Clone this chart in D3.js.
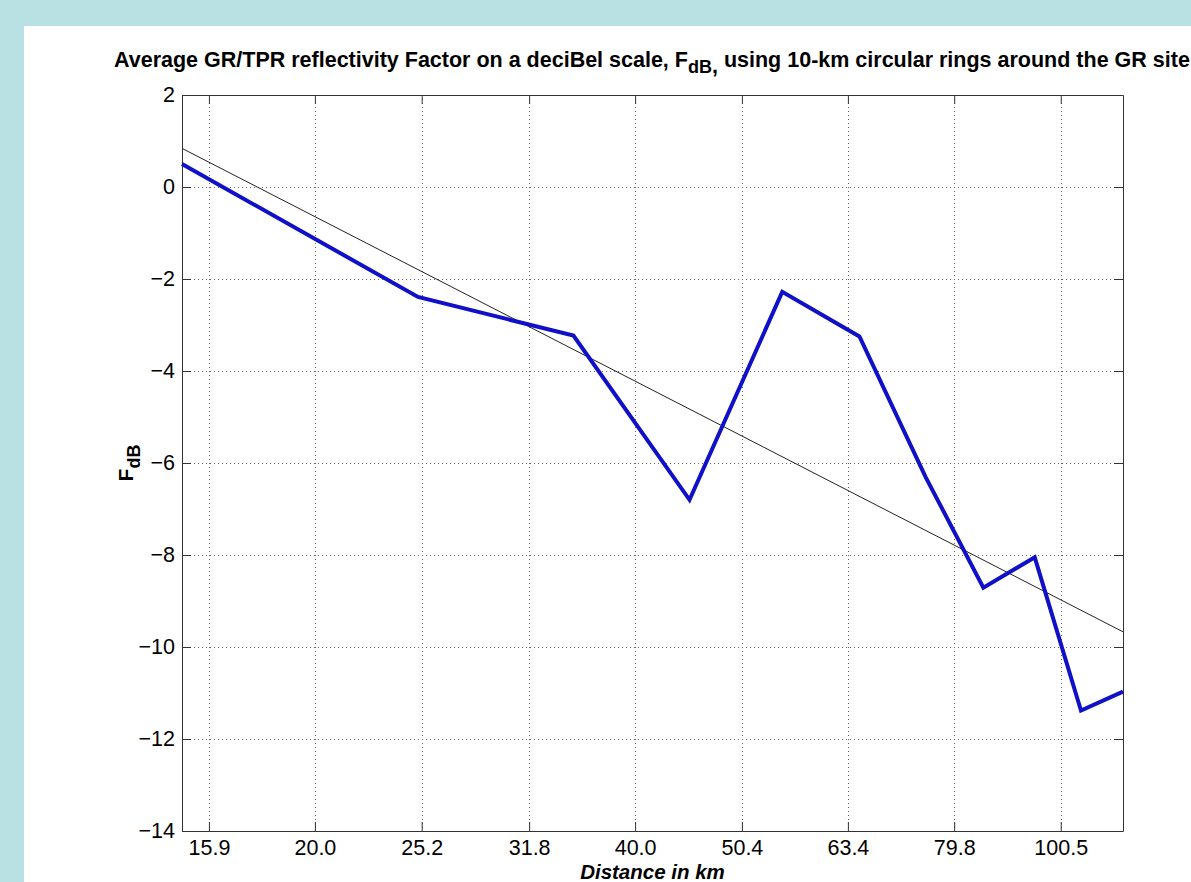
<!DOCTYPE html>
<html>
<head>
<meta charset="utf-8">
<script src="https://cdn.jsdelivr.net/npm/d3@7"></script>
<style>
  html, body { margin: 0; padding: 0; background: #b9e0e3; overflow: hidden; }
  text { font-family: "Liberation Sans", Arial, sans-serif; }
</style>
</head>
<body>
<div id="chart"></div>
<script>
// ring distances (km) and average GR/TPR factor in dB
const distanceKm = [15, 25, 35, 45, 55, 65, 75, 85, 95, 105, 115];
const factorDb = [0.5, -2.39, -3.23, -6.8, -2.28, -3.25, -6.3, -8.71, -8.05, -11.38, -10.97];

// fitted trend line end points
const fitKm = [15, 115];
const fitDb = [0.84, -9.67];

const xTicks = [15.9, 20.0, 25.2, 31.8, 40.0, 50.4, 63.4, 79.8, 100.5];
const yTicks = [-14, -12, -10, -8, -6, -4, -2, 0, 2];

const width = 1191,
  height = 882;
const marginLeft = 182,
  marginRight = 68,
  marginTop = 95,
  marginBottom = 51;

const x = d3.scaleLog([15, 115], [marginLeft, width - marginRight]);
const y = d3.scaleLinear([-14, 2], [height - marginBottom, marginTop]);

const svg = d3
  .select("#chart")
  .append("svg")
  .attr("width", width)
  .attr("height", height)
  .attr("viewBox", [0, 0, width, height]);

// white figure panel
svg
  .append("rect")
  .attr("x", 24)
  .attr("y", 26)
  .attr("width", width - 24)
  .attr("height", height - 26)
  .attr("fill", "#fff");

// dotted grid
const grid = svg
  .append("g")
  .attr("stroke", "#666")
  .attr("stroke-width", 1)
  .attr("stroke-dasharray", "1,3");

grid
  .selectAll(".gx")
  .data(xTicks)
  .join("line")
  .attr("x1", (d) => Math.round(x(d)) + 0.5)
  .attr("x2", (d) => Math.round(x(d)) + 0.5)
  .attr("y1", marginTop)
  .attr("y2", height - marginBottom);

grid
  .selectAll(".gy")
  .data(yTicks.slice(1, -1))
  .join("line")
  .attr("x1", marginLeft)
  .attr("x2", width - marginRight)
  .attr("y1", (d) => Math.round(y(d)) + 0.5)
  .attr("y2", (d) => Math.round(y(d)) + 0.5);

// axes (ticks pointing inward, box on all four sides)
const fmtX = d3.format(".1f");
svg
  .append("g")
  .attr("transform", `translate(0,${height - marginBottom})`)
  .call(d3.axisBottom(x).tickValues(xTicks).tickFormat(fmtX).tickSize(-9).tickSizeOuter(0).tickPadding(9))
  .call((g) => g.selectAll("text").attr("font-size", 21.5).attr("fill", "#000"));

svg
  .append("g")
  .attr("transform", `translate(0,${marginTop})`)
  .call(d3.axisTop(x).tickValues(xTicks).tickFormat("").tickSize(-9).tickSizeOuter(0));

svg
  .append("g")
  .attr("transform", `translate(${marginLeft},0)`)
  .call(d3.axisLeft(y).tickValues(yTicks).tickSize(-9).tickSizeOuter(0).tickPadding(7))
  .call((g) => g.selectAll("text").attr("font-size", 21.5).attr("fill", "#000"));

svg
  .append("g")
  .attr("transform", `translate(${width - marginRight},0)`)
  .call(d3.axisRight(y).tickValues(yTicks).tickFormat("").tickSize(-9).tickSizeOuter(0));

svg.selectAll(".domain").attr("stroke", "#333");
svg.selectAll(".tick line").attr("stroke", "#333");

// trend line
svg
  .append("path")
  .datum(d3.zip(fitKm, fitDb))
  .attr("fill", "none")
  .attr("stroke", "#222")
  .attr("stroke-width", 1)
  .attr("d", d3.line().x((d) => x(d[0])).y((d) => y(d[1])));

// measured curve
svg
  .append("path")
  .datum(d3.zip(distanceKm, factorDb))
  .attr("fill", "none")
  .attr("stroke", "#1010c8")
  .attr("stroke-width", 4)
  .attr("stroke-linejoin", "miter")
  .attr("d", d3.line().x((d) => x(d[0])).y((d) => y(d[1])));

// title
const title = svg
  .append("text")
  .attr("x", 114)
  .attr("y", 67)
  .attr("font-size", 21.5)
  .attr("font-weight", "bold")
  .attr("fill", "#000");
title.append("tspan").text("Average GR/TPR reflectivity Factor on a deciBel scale, F");
title.append("tspan").attr("dy", 6).attr("font-size", 18).text("dB");
title.append("tspan").attr("dy", 0).text(",");
title.append("tspan").attr("dy", -6).text(" using 10-km circular rings around the GR site");

// x label
svg
  .append("text")
  .attr("x", (marginLeft + width - marginRight) / 2)
  .attr("y", 879)
  .attr("text-anchor", "middle")
  .attr("font-size", 20.5)
  .attr("font-weight", "bold")
  .attr("font-style", "italic")
  .text("Distance in km");

// y label
const ylab = svg
  .append("text")
  .attr("transform", `translate(133,${(marginTop + height - marginBottom) / 2}) rotate(-90)`)
  .attr("text-anchor", "middle")
  .attr("font-size", 21)
  .attr("font-weight", "bold");
ylab.append("tspan").text("F");
ylab.append("tspan").attr("dy", 7).attr("font-size", 18).text("dB");
</script>
</body>
</html>
